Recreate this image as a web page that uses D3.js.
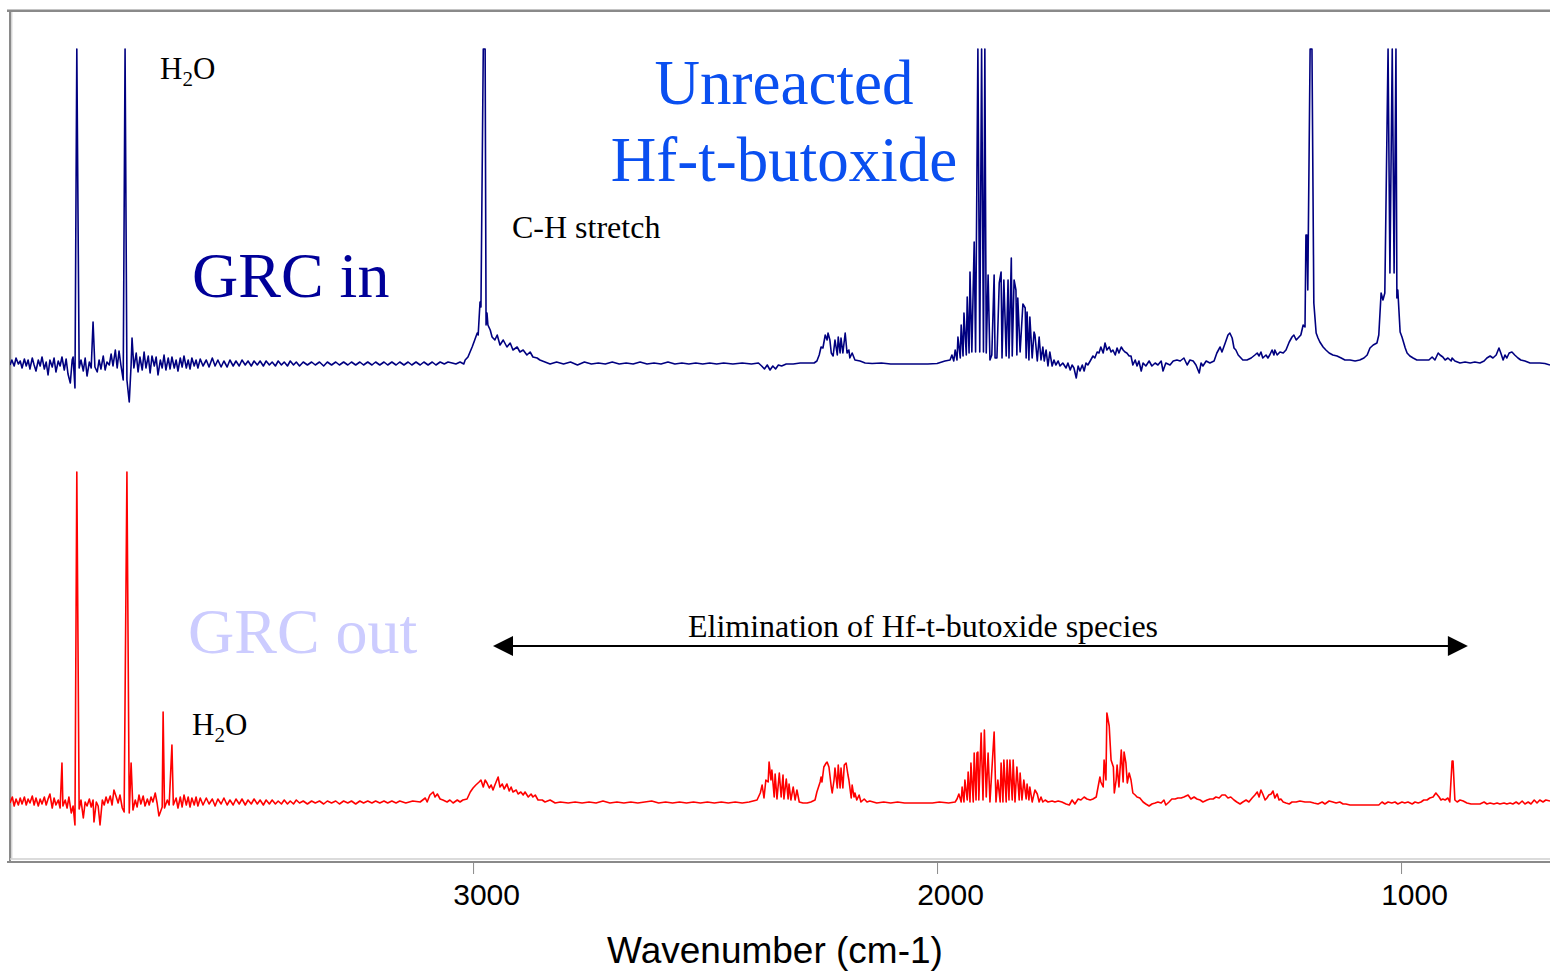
<!DOCTYPE html>
<html>
<head>
<meta charset="utf-8">
<script src="https://cdn.jsdelivr.net/npm/d3@7"></script>
<style>
  body { margin: 0; background: #fff; }
  svg { display: block; }
</style>
</head>
<body>
<div id="chart"></div>
<script>
// IR spectra, [wavenumber cm-1, absorbance a.u. above baseline]
const grcIn = [
  [3998,-0.2],[3994,0.3],[3989,-0.3],[3985,0.5],[3980,-0.1],[3976,0.2],[3972,-0.5],[3967,0.4],[3963,-0.3],[3959,0.3],
  [3955,-0.6],[3950,0.5],[3946,-0.2],[3942,-0.8],[3937,0.3],[3933,-0.3],[3929,0.6],[3924,-0.6],[3920,0.1],[3916,-1.2],
  [3912,0.3],[3907,-0.4],[3903,0.5],[3899,-0.9],[3894,0.2],[3890,-0.3],[3886,0.6],[3881,-0.7],[3877,0.4],[3873,-1.1],
  [3868,-2.0],[3864,0.3],[3862,0.6],[3858,-2.5],[3854,31.4],[3849,-0.5],[3845,0.3],[3840,-0.8],[3836,0.5],
  [3832,-1.3],[3827,0.1],[3823,-0.5],[3819,4.1],[3815,-0.4],[3810,-0.9],[3806,0.3],[3802,-0.6],[3797,0.7],[3793,-0.7],
  [3789,0.1],[3784,-0.2],[3780,0.9],[3776,-0.3],[3771,1.3],[3767,-0.5],[3763,1.2],[3759,-0.2],[3754,-1.7],[3750,31.4],
  [3746,-1.7],[3741,-3.9],[3737,-0.2],[3735,2.5],[3731,-0.5],[3726,1.0],[3722,-0.9],[3718,0.6],[3713,-0.7],
  [3709,1.1],[3705,-0.5],[3700,0.7],[3696,-1.0],[3692,0.7],[3687,-0.3],[3683,0.6],[3679,-1.2],[3674,0.3],[3670,-0.5],
  [3666,0.8],[3662,-0.7],[3657,0.5],[3653,-0.6],[3649,0.6],[3644,-0.5],[3640,0.3],[3636,-0.8],[3631,0.5],[3627,-0.4],
  [3623,0.7],[3618,-0.5],[3614,0.3],[3610,-0.6],[3606,0.5],[3601,-0.3],[3597,0.3],[3593,-0.5],[3588,0.4],[3582,-0.3],
  [3575,0.3],[3569,-0.4],[3562,0.5],[3556,-0.3],[3550,0.3],[3543,-0.4],[3537,0.2],[3530,-0.4],[3524,0.3],[3517,-0.3],
  [3511,0.2],[3504,-0.3],[3498,0.3],[3491,-0.2],[3485,0.2],[3478,-0.3],[3472,0.2],[3465,-0.2],[3459,0.2],[3452,-0.3],
  [3446,0.2],[3439,-0.2],[3433,0.1],[3426,-0.3],[3420,0.2],[3413,-0.2],[3407,0.1],[3400,-0.3],[3394,0.2],[3387,-0.2],
  [3381,0.1],[3374,-0.3],[3366,0.1],[3357,-0.2],[3348,0.1],[3340,-0.2],[3331,0.1],[3322,-0.3],[3314,0.1],[3305,-0.2],
  [3296,0.1],[3288,-0.2],[3279,0.1],[3270,-0.2],[3262,0.1],[3253,-0.2],[3244,0.1],[3236,-0.2],[3227,0.1],[3218,-0.2],
  [3210,0.1],[3201,-0.2],[3192,0.1],[3184,-0.2],[3175,0.1],[3166,-0.2],[3158,0.1],[3149,-0.2],[3140,0.1],[3132,-0.2],
  [3123,0.1],[3114,-0.2],[3106,0.1],[3097,-0.2],[3088,0.1],[3080,-0.2],[3071,0.1],[3062,-0.1],[3054,0.1],[3045,0.0],
  [3037,-0.1],[3028,0.1],[3020,-0.1],[3017,0.3],[3011,0.6],[3002,1.6],[2998,2.1],[2991,3.0],[2989,2.8],[2985,6.1],
  [2983,5.6],[2978,31.4],[2974,31.4],[2972,3.8],[2970,5.0],[2968,3.8],[2963,3.3],[2959,2.6],[2953,2.3],[2948,2.8],
  [2942,1.8],[2935,2.3],[2927,1.6],[2920,2.0],[2914,1.3],[2905,1.6],[2899,1.1],[2892,1.3],[2884,0.8],[2877,1.1],
  [2871,0.6],[2862,0.5],[2856,0.3],[2845,0.1],[2834,-0.1],[2820,0.1],[2805,-0.1],[2790,0.1],[2775,-0.2],[2760,0.1],
  [2745,-0.1],[2730,0.0],[2715,-0.1],[2700,0.1],[2685,-0.1],[2670,0.0],[2655,-0.1],[2640,0.1],[2625,-0.1],[2610,0.0],
  [2595,-0.1],[2580,0.1],[2565,-0.1],[2550,0.0],[2535,-0.1],[2520,0.0],[2505,-0.1],[2490,0.0],[2475,-0.1],[2460,0.0],
  [2440,-0.1],[2420,0.0],[2400,-0.1],[2385,0.0],[2378,-0.3],[2372,-0.6],[2366,-0.2],[2360,-0.7],[2354,-0.3],[2348,-0.6],
  [2342,-0.2],[2335,-0.3],[2325,-0.1],[2310,-0.1],[2295,0.0],[2280,0.0],[2265,0.0],[2259,0.2],[2254,0.8],[2250,1.6],
  [2246,1.5],[2241,2.8],[2237,2.3],[2235,3.0],[2231,2.3],[2228,1.0],[2224,0.7],[2220,2.3],[2215,0.8],[2213,2.6],
  [2209,1.0],[2207,2.5],[2203,1.0],[2198,3.0],[2194,1.0],[2190,1.3],[2188,0.5],[2183,1.0],[2177,0.3],[2166,0.2],
  [2155,0.0],[2140,-0.05],[2120,0.0],[2100,-0.1],[2080,-0.1],[2060,-0.1],[2040,-0.1],[2020,-0.1],[2000,-0.05],[1983,0.2],
  [1972,0.3],[1968,0.8],[1964,0.2],[1961,1.3],[1957,0.3],[1955,2.6],[1950,0.5],[1948,3.8],[1944,0.7],[1942,5.0],
  [1937,0.8],[1935,6.6],[1931,1.0],[1929,9.1],[1925,1.1],[1920,12.1],[1917,1.1],[1912,31.4],[1908,1.1],[1904,31.4],
  [1900,1.1],[1897,31.4],[1894,1.0],[1890,8.8],[1886,0.3],[1882,0.8],[1877,8.8],[1875,0.5],[1871,0.5],[1866,8.0],
  [1862,9.1],[1860,0.5],[1856,8.3],[1851,0.7],[1847,8.3],[1845,0.5],[1840,10.5],[1838,0.7],[1834,8.3],[1830,7.3],
  [1828,0.8],[1826,6.5],[1821,1.1],[1815,5.9],[1810,5.5],[1808,0.5],[1806,5.1],[1802,0.3],[1800,4.6],[1795,0.5],
  [1791,3.1],[1789,2.8],[1784,0.2],[1780,2.6],[1776,0.3],[1772,1.6],[1769,0.2],[1765,1.3],[1761,-0.3],[1757,1.1],
  [1752,-0.3],[1748,0.3],[1744,-0.2],[1739,0.2],[1735,-0.3],[1729,0.0],[1722,-0.5],[1718,0.0],[1713,-0.7],[1709,-0.2],
  [1705,-0.5],[1700,-1.5],[1696,-0.3],[1692,-0.8],[1687,-0.2],[1683,-0.8],[1679,0.0],[1675,-0.2],[1670,0.2],[1664,0.7],
  [1660,0.5],[1655,1.1],[1651,1.0],[1647,1.6],[1642,1.0],[1638,2.0],[1634,1.3],[1629,1.6],[1625,1.1],[1621,1.3],
  [1616,0.8],[1612,1.5],[1608,1.0],[1603,1.6],[1599,1.3],[1595,1.1],[1591,1.0],[1586,0.7],[1582,0.7],[1578,-0.2],
  [1573,0.3],[1569,-0.3],[1565,0.2],[1560,-0.8],[1556,0.0],[1550,-0.3],[1543,0.2],[1537,-0.3],[1530,0.0],[1524,-0.2],
  [1517,0.2],[1513,-0.8],[1507,0.0],[1498,-0.2],[1491,0.2],[1483,0.3],[1476,0.2],[1468,0.5],[1461,-0.2],[1455,0.3],
  [1448,0.2],[1442,-0.2],[1435,-1.0],[1431,0.0],[1427,-0.3],[1420,0.2],[1412,0.0],[1403,0.2],[1397,1.0],[1390,1.6],
  [1386,1.1],[1379,2.0],[1373,2.8],[1369,3.0],[1364,2.5],[1360,1.5],[1356,1.3],[1351,0.8],[1345,0.5],[1341,0.3],
  [1332,0.3],[1323,0.5],[1315,0.8],[1310,1.0],[1306,0.7],[1302,1.1],[1298,0.5],[1291,0.8],[1287,0.5],[1283,0.8],
  [1278,1.3],[1274,0.8],[1272,1.3],[1267,0.8],[1261,1.1],[1254,1.0],[1248,1.3],[1241,2.1],[1235,2.6],[1231,2.8],
  [1226,2.3],[1222,2.5],[1216,2.8],[1211,3.8],[1207,3.6],[1205,12.8],[1203,12.8],[1201,7.3],[1196,31.4],[1192,31.4],
  [1188,6.0],[1183,3.0],[1179,2.5],[1175,2.1],[1168,1.6],[1162,1.3],[1155,1.0],[1147,0.8],[1138,0.7],[1129,0.5],
  [1121,0.3],[1110,0.3],[1099,0.2],[1089,0.3],[1080,0.5],[1073,0.8],[1067,1.5],[1060,1.8],[1052,2.0],[1048,2.8],
  [1043,7.0],[1039,6.3],[1035,7.0],[1028,31.4],[1024,9.0],[1019,31.4],[1015,9.0],[1011,31.4],[1009,6.5],[1007,7.3],
  [1002,3.1],[998,2.6],[991,1.5],[987,1.0],[981,0.7],[974,0.5],[966,0.3],[957,0.3],[948,0.3],[940,0.3],
  [933,0.6],[927,0.3],[920,1.0],[916,0.8],[910,0.6],[905,0.3],[899,0.5],[892,0.2],[890,0.5],[884,0.2],
  [873,0.0],[862,0.1],[851,0.0],[841,0.1],[830,0.0],[821,0.2],[815,0.5],[808,0.7],[802,0.5],[795,0.8],
  [789,1.5],[785,1.0],[780,0.3],[776,0.8],[772,0.5],[767,1.0],[761,1.1],[755,0.8],[748,0.5],[742,0.3],
  [733,0.2],[722,0.0],[711,0.0],[701,0.0],[690,-0.05],[679,-0.2]
]

const grcOut = [
  [3998,-0.1],[3993,0.5],[3989,-0.4],[3985,0.3],[3980,-0.3],[3976,0.4],[3972,-0.2],[3967,0.5],[3963,-0.3],[3959,0.3],
  [3955,-0.1],[3950,0.6],[3946,-0.3],[3942,0.4],[3937,-0.4],[3933,0.3],[3929,-0.2],[3924,0.5],[3920,-0.3],[3916,0.3],
  [3912,0.8],[3907,-0.6],[3903,0.4],[3899,-0.3],[3894,0.2],[3890,-0.6],[3886,3.9],[3884,-0.4],[3879,0.2],[3875,-0.6],
  [3871,0.5],[3866,-1.1],[3862,-0.4],[3858,-2.3],[3854,33.0],[3849,-0.7],[3845,0.2],[3840,-1.6],[3836,0.0],
  [3832,-0.4],[3827,0.3],[3823,-0.5],[3819,0.2],[3817,-2.0],[3812,0.0],[3808,-0.4],[3804,-2.3],[3799,0.2],[3795,-0.3],
  [3791,0.5],[3787,-0.1],[3782,0.6],[3778,-0.3],[3774,1.2],[3769,0.5],[3765,-0.1],[3761,0.7],[3756,-0.6],[3752,-1.0],
  [3746,33.0],[3741,-1.1],[3737,3.9],[3733,-0.8],[3728,0.2],[3724,-0.5],[3720,0.7],[3716,-0.2],[3711,0.6],
  [3707,-0.4],[3702,0.3],[3698,-0.3],[3694,0.5],[3690,0.0],[3685,0.9],[3681,-0.1],[3677,-1.4],[3670,-0.5],[3668,9.0],
  [3665,-0.6],[3659,0.2],[3655,-0.3],[3649,5.7],[3646,-0.3],[3640,0.4],[3636,-0.6],[3631,0.5],[3627,-0.5],[3623,0.7],
  [3618,-0.3],[3614,0.5],[3610,-0.5],[3606,0.4],[3601,-0.3],[3597,0.5],[3593,-0.4],[3588,0.4],[3582,-0.3],[3575,0.4],
  [3569,-0.2],[3562,0.3],[3556,-0.4],[3550,0.3],[3543,-0.2],[3537,0.4],[3530,-0.3],[3524,0.2],[3517,-0.3],[3511,0.3],
  [3504,-0.2],[3498,0.3],[3491,-0.3],[3485,0.2],[3478,-0.2],[3472,0.3],[3465,-0.2],[3459,0.2],[3452,-0.3],[3446,0.2],
  [3439,-0.2],[3433,0.2],[3426,-0.2],[3420,0.1],[3413,-0.2],[3407,0.2],[3400,-0.2],[3394,0.1],[3387,-0.2],[3381,0.2],
  [3374,-0.1],[3366,0.1],[3357,-0.2],[3348,0.1],[3340,-0.1],[3331,0.1],[3322,-0.2],[3314,0.1],[3305,-0.1],[3296,0.1],
  [3288,-0.2],[3279,0.1],[3270,-0.1],[3262,0.1],[3253,-0.2],[3244,0.1],[3236,-0.1],[3227,0.1],[3218,-0.1],[3210,0.1],
  [3201,-0.1],[3192,0.1],[3184,-0.1],[3175,0.1],[3166,-0.1],[3158,0.1],[3145,-0.1],[3130,0.1],[3114,0.0],[3103,0.4],
  [3099,0.0],[3093,0.7],[3086,1.0],[3082,0.5],[3077,0.8],[3071,0.3],[3065,0.2],[3056,0.0],[3050,0.2],[3043,-0.1],
  [3034,0.2],[3028,0.0],[3022,0.2],[3013,0.3],[3006,1.0],[3000,1.4],[2994,1.7],[2987,2.0],[2983,2.2],[2978,1.5],
  [2974,2.2],[2970,1.9],[2965,1.4],[2961,1.7],[2957,1.2],[2953,1.7],[2946,2.5],[2942,1.5],[2937,1.8],[2933,1.3],
  [2927,1.8],[2922,1.1],[2918,1.5],[2914,1.0],[2907,1.2],[2903,0.8],[2897,1.0],[2892,0.7],[2888,1.0],[2881,0.5],
  [2875,0.8],[2871,0.5],[2866,0.7],[2860,0.2],[2851,0.2],[2845,0.0],[2834,0.2],[2823,-0.1],[2812,0.0],[2795,-0.1],
  [2780,0.0],[2765,-0.1],[2750,0.0],[2735,-0.1],[2720,0.1],[2705,-0.1],[2690,0.0],[2675,-0.1],[2660,0.0],[2645,-0.1],
  [2630,0.0],[2615,0.1],[2600,-0.1],[2585,0.0],[2570,-0.1],[2555,0.0],[2540,-0.1],[2525,0.0],[2510,-0.1],[2495,0.0],
  [2480,-0.1],[2465,0.0],[2450,-0.1],[2435,0.0],[2420,-0.1],[2405,0.0],[2388,0.2],[2381,0.9],[2377,1.7],[2373,0.4],
  [2369,2.2],[2364,2.0],[2362,4.0],[2358,2.2],[2356,3.2],[2351,0.5],[2349,2.8],[2345,0.3],[2340,2.9],[2336,0.5],
  [2332,2.7],[2330,0.3],[2325,2.3],[2321,0.3],[2319,1.8],[2315,0.2],[2310,1.5],[2306,0.2],[2302,1.2],[2297,0.0],
  [2289,-0.1],[2280,-0.1],[2272,0.0],[2263,0.2],[2259,1.0],[2252,2.0],[2250,2.5],[2248,2.0],[2244,3.5],[2239,3.9],
  [2237,4.0],[2233,3.5],[2228,1.5],[2226,0.9],[2222,2.2],[2220,3.4],[2215,1.4],[2213,3.7],[2209,1.4],[2207,3.4],
  [2203,1.4],[2200,3.7],[2196,3.9],[2192,2.7],[2190,2.2],[2185,0.4],[2183,1.7],[2179,0.5],[2177,0.9],[2173,0.2],
  [2168,0.7],[2164,0.0],[2157,0.3],[2151,0.0],[2145,0.1],[2130,-0.1],[2115,0.0],[2100,-0.1],[2085,0.0],[2070,-0.1],
  [2055,-0.1],[2040,-0.1],[2025,-0.1],[2010,-0.1],[1995,0.0],[1975,-0.1],[1961,0.0],[1957,0.3],[1953,0.8],[1948,0.0],
  [1946,1.5],[1942,0.0],[1940,2.2],[1935,0.2],[1933,3.0],[1929,0.0],[1927,3.9],[1922,0.0],[1920,4.9],[1916,0.2],
  [1914,4.9],[1912,5.0],[1910,0.2],[1905,6.9],[1901,0.2],[1898,7.2],[1894,0.5],[1890,4.9],[1886,0.0],[1877,7.0],
  [1873,0.0],[1869,2.2],[1864,0.0],[1862,3.9],[1858,0.0],[1856,4.2],[1851,0.0],[1849,4.2],[1845,0.2],[1843,4.2],
  [1838,0.2],[1836,4.2],[1832,0.0],[1828,3.5],[1823,0.2],[1821,2.9],[1817,0.2],[1813,2.2],[1808,0.3],[1806,1.8],
  [1802,0.2],[1800,1.5],[1795,0.0],[1789,1.2],[1784,0.8],[1780,0.0],[1776,0.5],[1772,0.0],[1767,0.2],[1761,0.0],
  [1752,0.1],[1746,0.0],[1739,0.1],[1731,0.0],[1722,-0.2],[1715,-0.3],[1709,0.2],[1703,-0.2],[1696,0.3],[1690,0.2],
  [1683,0.5],[1677,0.3],[1670,0.2],[1664,0.3],[1657,0.5],[1653,1.5],[1649,2.5],[1647,2.0],[1642,1.5],[1640,4.2],
  [1636,2.2],[1634,8.9],[1629,7.6],[1625,4.2],[1620,3.5],[1618,0.9],[1614,2.2],[1612,3.7],[1608,1.5],[1603,5.2],
  [1599,2.0],[1597,5.0],[1593,3.9],[1590,1.9],[1586,2.9],[1582,2.2],[1578,0.9],[1573,0.7],[1569,0.5],[1563,0.4],
  [1556,0.0],[1550,-0.2],[1543,-0.4],[1537,-0.2],[1530,-0.1],[1524,0.0],[1517,-0.1],[1511,0.2],[1507,-0.3],[1500,0.0],
  [1494,0.3],[1487,0.3],[1481,0.4],[1474,0.4],[1468,0.5],[1459,0.7],[1453,0.3],[1446,0.5],[1440,0.3],[1433,0.2],
  [1427,0.0],[1418,0.2],[1412,0.3],[1405,0.3],[1399,0.5],[1392,0.4],[1386,0.7],[1379,0.7],[1373,0.4],[1367,0.5],
  [1360,0.2],[1354,0.0],[1347,-0.2],[1341,0.0],[1334,0.2],[1328,0.0],[1321,0.4],[1315,0.7],[1310,1.0],[1306,0.5],
  [1302,1.2],[1298,0.8],[1293,0.2],[1289,0.4],[1285,0.7],[1280,0.8],[1276,1.1],[1272,0.4],[1267,0.8],[1263,0.2],
  [1259,0.3],[1254,0.0],[1248,-0.1],[1241,-0.2],[1235,0.0],[1226,0.0],[1218,0.1],[1207,0.0],[1196,0.0],[1188,-0.1],
  [1179,-0.2],[1170,0.0],[1164,-0.2],[1155,0.1],[1147,0.0],[1140,-0.1],[1132,0.0],[1125,-0.2],[1119,-0.2],[1110,-0.3],
  [1048,-0.3],[1041,0.0],[1035,-0.2],[1028,0.0],[1020,-0.1],[1013,0.0],[1007,-0.2],[998,0.0],[992,-0.1],[985,0.0],
  [976,-0.2],[970,0.0],[963,-0.1],[957,0.0],[951,0.2],[944,0.2],[938,0.4],[931,0.5],[925,0.9],[918,0.5],
  [914,0.2],[910,0.3],[905,0.2],[899,0.4],[895,0.0],[890,4.1],[888,4.1],[884,0.2],[879,0.0],[873,0.2],
  [866,0.1],[858,-0.1],[849,-0.2],[841,-0.2],[830,-0.2],[821,0.0],[815,-0.2],[808,-0.1],[800,-0.2],[793,-0.1],
  [787,-0.2],[778,-0.1],[772,-0.2],[765,-0.1],[759,-0.2],[752,0.0],[746,-0.2],[739,0.1],[733,-0.2],[726,0.0],
  [720,-0.2],[713,0.2],[707,-0.1],[701,0.2],[694,0.0],[688,0.2],[679,0.1]
]

const xDomain = [3998, 679]
const tickValues = [3000, 2000, 1000]
const xTitle = "Wavenumber (cm-1)"
// wavenumber span of the "Elimination" arrow
const eliminationSpan = [2957, 856]

const width = 1550
const height = 972
const plot = { left: 10, right: 1550, top: 10, bottom: 860 }

// vertical stacking of the two traces (a.u.)
const offsetIn = 49.7
const offsetOut = 5.8

const serif = "'Liberation Serif','Times New Roman',serif"
const sans = "'Liberation Sans',Arial,sans-serif"

const svg = d3.select("#chart")
  .append("svg")
  .attr("width", width)
  .attr("height", height)

const x = d3.scaleLinear().domain(xDomain).range([plot.left, plot.right])
const y = d3.scaleLinear().domain([0, 85]).range([plot.bottom, plot.top])

svg.append("clipPath").attr("id", "plotclip")
  .append("rect")
  .attr("x", plot.left).attr("y", plot.top)
  .attr("width", plot.right - plot.left).attr("height", plot.bottom - plot.top)

// frame (top and left), gray double line
svg.append("line").attr("x1", 7).attr("x2", width).attr("y1", 9.5).attr("y2", 9.5)
  .attr("stroke", "#c4c4c4").attr("stroke-width", 1)
svg.append("line").attr("x1", 7).attr("x2", width).attr("y1", 11).attr("y2", 11)
  .attr("stroke", "#8a8a8a").attr("stroke-width", 2)
svg.append("line").attr("x1", 10).attr("x2", 10).attr("y1", 10).attr("y2", 861)
  .attr("stroke", "#8a8a8a").attr("stroke-width", 2)
svg.append("line").attr("x1", 11.8).attr("x2", 11.8).attr("y1", 12).attr("y2", 859)
  .attr("stroke", "#c4c4c4").attr("stroke-width", 1)
svg.append("line").attr("x1", 10).attr("x2", width).attr("y1", 859).attr("y2", 859)
  .attr("stroke", "#cfcfcf").attr("stroke-width", 1.5)

// x axis
const xAxis = d3.axisBottom(x).tickValues(tickValues).tickSize(12).tickSizeOuter(0)
  .tickFormat(d3.format("d"))
const gx = svg.append("g")
  .attr("transform", "translate(0,862)")
  .call(xAxis)
gx.select(".domain").attr("stroke", "#8a8a8a").attr("stroke-width", 2)
  .attr("d", "M7,0H" + width)
gx.selectAll(".tick line").attr("stroke", "#8a8a8a").attr("stroke-width", 1)
gx.selectAll(".tick text")
  .attr("font-family", sans).attr("font-size", 30).attr("fill", "#000")
  .attr("y", 22).attr("dx", 13)

svg.append("text")
  .attr("x", 775).attr("y", 963)
  .attr("text-anchor", "middle")
  .attr("font-family", sans).attr("font-size", 37)
  .text(xTitle)

// spectra
const lineIn = d3.line().x(d => x(d[0])).y(d => y(d[1] + offsetIn))
const lineOut = d3.line().x(d => x(d[0])).y(d => y(d[1] + offsetOut))

const traces = svg.append("g").attr("clip-path", "url(#plotclip)")
traces.append("path").datum(grcIn)
  .attr("d", lineIn).attr("fill", "none")
  .attr("stroke", "#000080").attr("stroke-width", 1.6).attr("stroke-linejoin", "round")
traces.append("path").datum(grcOut)
  .attr("d", lineOut).attr("fill", "none")
  .attr("stroke", "#ff0000").attr("stroke-width", 1.6).attr("stroke-linejoin", "round")

// annotations
function water(xp, yp) {
  const t = svg.append("text").attr("x", xp).attr("y", yp)
    .attr("font-family", serif).attr("font-size", 31).attr("fill", "#000")
  t.append("tspan").text("H")
  t.append("tspan").attr("font-size", 21).attr("dy", 7).text("2")
  t.append("tspan").attr("dy", -7).text("O")
}
water(160, 79)
water(192, 735)

svg.append("text").attr("x", 512).attr("y", 238)
  .attr("font-family", serif).attr("font-size", 32).text("C-H stretch")

svg.append("text").attr("x", 192).attr("y", 297)
  .attr("font-family", serif).attr("font-size", 64).attr("fill", "#000099").text("GRC in")

svg.append("text").attr("x", 188).attr("y", 653)
  .attr("font-family", serif).attr("font-size", 64).attr("fill", "#ccccff").text("GRC out")

svg.append("text").attr("x", 784).attr("y", 104)
  .attr("text-anchor", "middle")
  .attr("font-family", serif).attr("font-size", 63).attr("fill", "#0a4ff0").text("Unreacted")
svg.append("text").attr("x", 784).attr("y", 181)
  .attr("text-anchor", "middle")
  .attr("font-family", serif).attr("font-size", 63).attr("fill", "#0a4ff0").text("Hf-t-butoxide")

svg.append("text").attr("x", 923).attr("y", 637)
  .attr("text-anchor", "middle")
  .attr("font-family", serif).attr("font-size", 32).text("Elimination of Hf-t-butoxide species")

// double-headed arrow
const ay = 646
const ax0 = x(eliminationSpan[0])
const ax1 = x(eliminationSpan[1])
svg.append("line").attr("x1", ax0 + 15).attr("x2", ax1 - 15).attr("y1", ay).attr("y2", ay)
  .attr("stroke", "#000").attr("stroke-width", 2)
svg.append("path")
  .attr("d", `M${ax0},${ay}L${ax0 + 20},${ay - 10}L${ax0 + 20},${ay + 10}Z`)
  .attr("fill", "#000")
svg.append("path")
  .attr("d", `M${ax1},${ay}L${ax1 - 20},${ay - 10}L${ax1 - 20},${ay + 10}Z`)
  .attr("fill", "#000")
</script>
</body>
</html>
